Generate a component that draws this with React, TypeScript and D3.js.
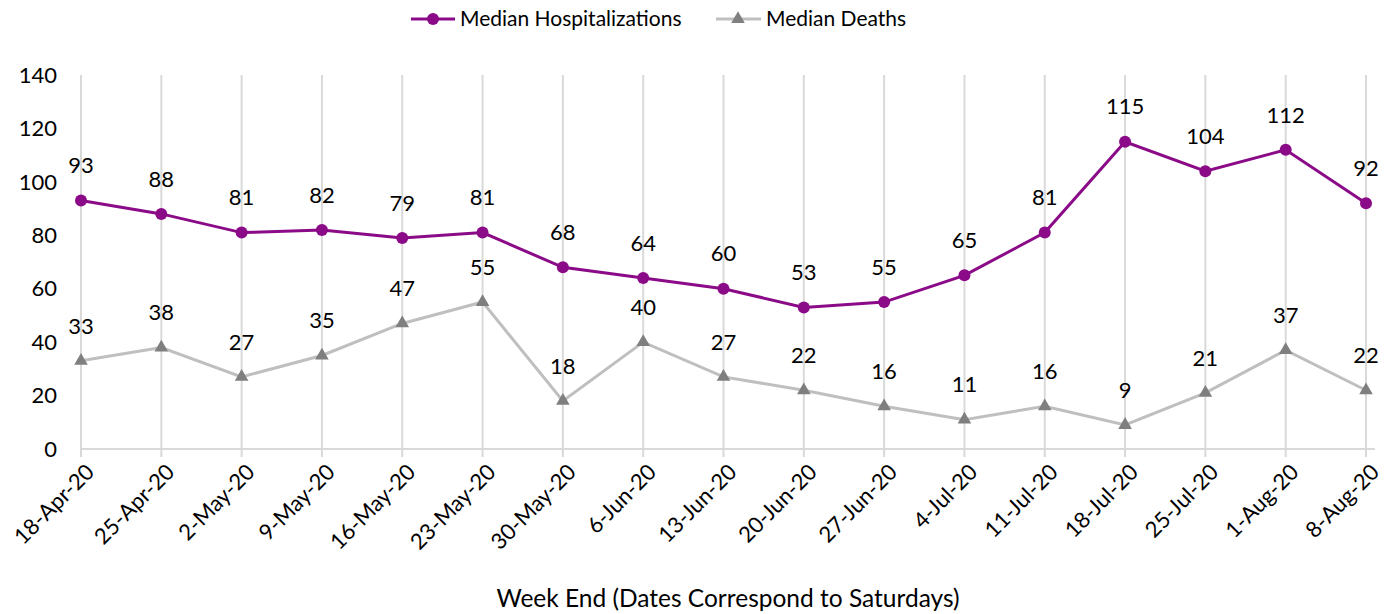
import React from "react";
import * as d3 from "d3";

const categories = ["18-Apr-20","25-Apr-20","2-May-20","9-May-20","16-May-20","23-May-20","30-May-20","6-Jun-20","13-Jun-20","20-Jun-20","27-Jun-20","4-Jul-20","11-Jul-20","18-Jul-20","25-Jul-20","1-Aug-20","8-Aug-20"];
const hospitalizations = [93,88,81,82,79,81,68,64,60,53,55,65,81,115,104,112,92];
const deaths = [33,38,27,35,47,55,18,40,27,22,16,11,16,9,21,37,22];
const yTicks = [0,20,40,60,80,100,120,140];

const W = 1398, H = 614;
const FONT = "Lato, 'Open Sans', sans-serif";

export default function App() {
  const x = d3.scalePoint<string>().domain(categories).range([81, 1366]);
  const y = d3.scaleLinear().domain([0, 140]).range([449, 75]);
  const line = d3.line<number>().x((_, i) => x(categories[i])!).y(d => y(d));
  const purple = "#8B0A87";
  const grayLine = "#BFBFBF";
  const grayMark = "#7F7F7F";
  const tri = d3.symbol(d3.symbolTriangle, 80)()!;
  return (
    <svg width={W} height={H} style={{ position: "absolute", left: 0, top: 0 }} fontFamily={FONT}>
      {categories.map(c => (
        <line key={c} x1={x(c)} x2={x(c)} y1={y(140)} y2={457} stroke="#D9D9D9" strokeWidth={2} />
      ))}
      <line x1={81} x2={1375} y1={y(0)} y2={y(0)} stroke="#D9D9D9" strokeWidth={2} />
      {yTicks.map(t => (
        <text key={t} x={57} y={y(t)} dy="0.35em" textAnchor="end" fontSize={22} fill="#000">{t}</text>
      ))}
      {categories.map(c => (
        <text key={c} transform={`translate(${x(c)! + 9},${468}) rotate(-45)`} textAnchor="end" dy="0.35em" fontSize={22} fill="#000">{c}</text>
      ))}
      <text x={728} y={598} dy="0.35em" textAnchor="middle" fontSize={24.5} fill="#000">Week End (Dates Correspond to Saturdays)</text>

      <path d={line(deaths)!} fill="none" stroke={grayLine} strokeWidth={3} />
      {deaths.map((d, i) => (
        <g key={i}>
          <path d={tri} transform={`translate(${x(categories[i])},${y(d)})`} fill={grayMark} />
          <text x={x(categories[i])} y={y(d) - 35} dy="0.35em" textAnchor="middle" fontSize={22} fill="#000">{d}</text>
        </g>
      ))}

      <path d={line(hospitalizations)!} fill="none" stroke={purple} strokeWidth={3} />
      {hospitalizations.map((d, i) => (
        <g key={i}>
          <circle cx={x(categories[i])} cy={y(d)} r={6} fill={purple} />
          <text x={x(categories[i])} y={y(d) - 35} dy="0.35em" textAnchor="middle" fontSize={22} fill="#000">{d}</text>
        </g>
      ))}

      <line x1={411} x2={455} y1={19} y2={19} stroke={purple} strokeWidth={3} />
      <circle cx={433} cy={19} r={6} fill={purple} />
      <text x={460} y={19} dy="0.35em" fontSize={21} fill="#000">Median Hospitalizations</text>
      <line x1={716} x2={761} y1={19} y2={19} stroke={grayLine} strokeWidth={3} />
      <path d={tri} transform="translate(738,19)" fill={grayMark} />
      <text x={766} y={19} dy="0.35em" fontSize={21} fill="#000">Median Deaths</text>
    </svg>
  );
}
